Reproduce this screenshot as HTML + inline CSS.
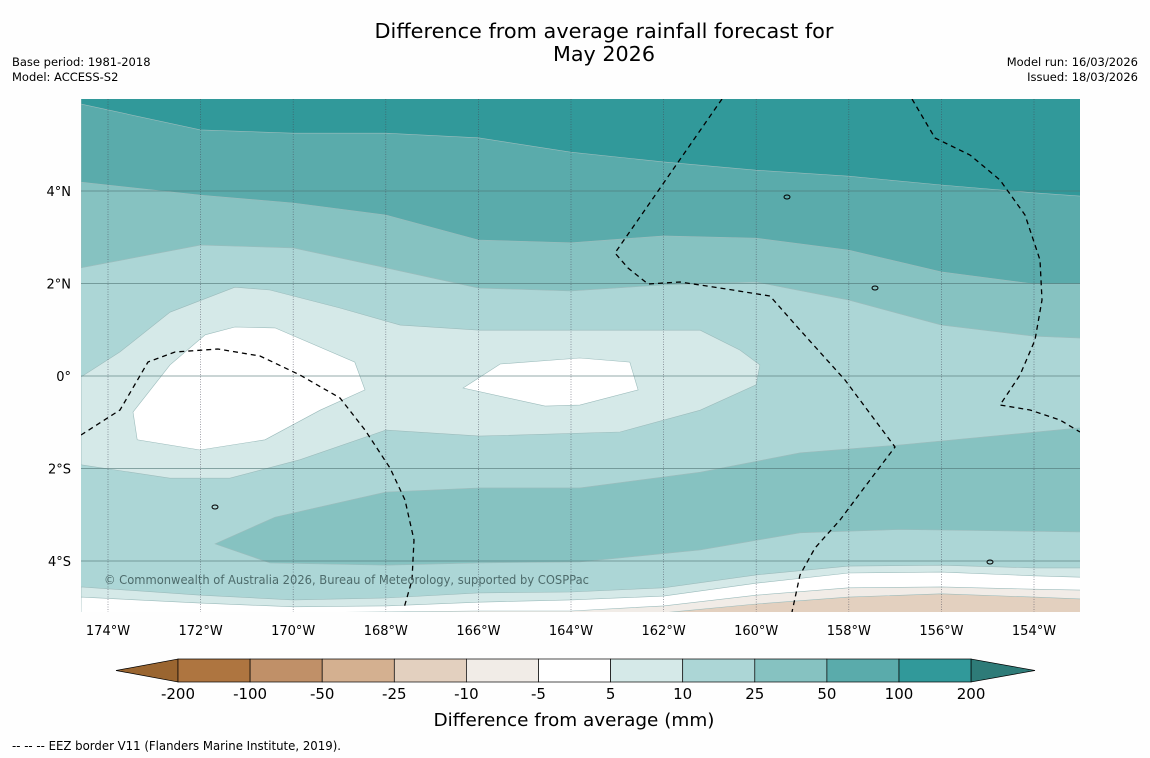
<!DOCTYPE html>
<html><head><meta charset="utf-8"><style>
html,body{margin:0;padding:0;background:#fff;}
svg{display:block;font-family:"DejaVu Sans","Liberation Sans",sans-serif;}
</style></head><body>
<svg id="chart" width="1150" height="758" viewBox="0 0 1150 758">
<rect width="1150" height="758" fill="#fefefe"/>
<text x="604" y="38" font-size="20.5" text-anchor="middle" textLength="459" lengthAdjust="spacingAndGlyphs">Difference from average rainfall forecast for</text>
<text x="604" y="61" font-size="20.5" text-anchor="middle" textLength="102" lengthAdjust="spacingAndGlyphs">May 2026</text>
<text x="12" y="66" font-size="11.5">Base period: 1981-2018</text>
<text x="12" y="81" font-size="11.5">Model: ACCESS-S2</text>
<text x="1138" y="66" font-size="11.5" text-anchor="end">Model run: 16/03/2026</text>
<text x="1138" y="81" font-size="11.5" text-anchor="end">Issued: 18/03/2026</text>
<defs><clipPath id="mapclip"><rect x="81" y="99" width="999" height="513"/></clipPath></defs>
<g id="map" clip-path="url(#mapclip)"></g>
<g id="axes"></g>
<g id="cbar"></g>
<text x="574" y="726" font-size="18" text-anchor="middle" textLength="281" lengthAdjust="spacingAndGlyphs">Difference from average (mm)</text>
<text x="12" y="750" font-size="12" textLength="329" lengthAdjust="spacingAndGlyphs">--  --  -- EEZ border V11 (Flanders Marine Institute, 2019).</text>
</svg>
<script>
const lonGrid = [-174.58,-172,-170,-168,-166,-164,-162,-160,-158,-156,-154,-153.0];
const bound100 = [5.88,5.32,5.25,5.25,5.15,4.84,4.63,4.45,4.32,4.13,3.96,3.89];
const bound50 = [4.19,3.91,3.74,3.48,2.94,2.88,3.03,2.98,2.72,2.25,1.99,1.99];
const bound25 = [2.34,2.83,2.77,2.34,1.90,1.84,1.97,2.03,1.64,1.10,0.86,0.82];
const boundLow10 = [-4.56,-4.74,-4.84,-4.80,-4.69,-4.67,-4.58,-4.30,-4.11,-4.09,-4.15,-4.15];
const boundLow5 = [-4.78,-4.91,-4.99,-4.97,-4.89,-4.84,-4.76,-4.48,-4.26,-4.24,-4.32,-4.35];
const boundLowM5 = [-5.12,-5.12,-5.12,-5.10,-5.08,-5.08,-4.97,-4.74,-4.58,-4.56,-4.61,-4.63];
const boundLowM10 = [-5.12,-5.12,-5.12,-5.12,-5.12,-5.12,-5.12,-4.93,-4.78,-4.71,-4.78,-4.82];
const region5to10 = [[-174.58,-0.02],[-173.74,0.52],[-172.66,1.38],[-171.26,1.92],[-170.50,1.86],[-168.99,1.47],[-167.69,1.10],[-165.97,0.99],[-163.37,0.99],[-161.21,0.99],[-160.35,0.56],[-159.92,0.24],[-160.00,-0.19],[-161.21,-0.74],[-162.94,-1.21],[-165.97,-1.30],[-168.00,-1.17],[-169.85,-1.81],[-171.37,-2.21],[-172.66,-2.21],[-174.58,-1.92]];
const whiteWest = [[-173.46,-0.78],[-172.66,0.24],[-171.90,0.89],[-171.26,1.06],[-170.39,1.04],[-168.67,0.30],[-168.45,-0.30],[-169.42,-0.74],[-170.61,-1.38],[-172.01,-1.60],[-173.37,-1.38]];
const whiteCentral = [[-166.33,-0.26],[-165.53,0.26],[-163.81,0.39],[-162.73,0.30],[-162.55,-0.30],[-163.81,-0.63],[-164.56,-0.65]];
const region25to50South = [[-171.69,-3.63],[-170.39,-3.05],[-168.00,-2.51],[-165.97,-2.42],[-163.81,-2.42],[-161.21,-2.08],[-159.05,-1.66],[-156.89,-1.49],[-153.0,-1.12],[-153.0,-3.37],[-156.89,-3.32],[-159.05,-3.39],[-161.21,-3.76],[-163.81,-4.02],[-165.97,-4.04],[-168.0,-4.09],[-170.50,-4.04]];
const lonTicks = [-174,-172,-170,-168,-166,-164,-162,-160,-158,-156,-154];
const lonLabels = ["174°W","172°W","170°W","168°W","166°W","164°W","162°W","160°W","158°W","156°W","154°W"];
const latTicks = [4,2,0,-2,-4];
const latLabels = ["4°N","2°N","0°","2°S","4°S"];
const cbarLevels = ["-200","-100","-50","-25","-10","-5","5","10","25","50","100","200"];
const cbarColors = ["#ae7540","#c09068","#d4b090","#e3d0bf","#f1ece7","#ffffff","#d5e9e8","#acd6d6","#86c2c1","#5aabab","#31999a"];
const NS='http://www.w3.org/2000/svg';
const X = lon => 108 + (lon + 174) * 46.3;
const Y = lat => 376 - lat * 46.25;
function mk(tag, attrs, parent){const e=document.createElementNS(NS,tag);for(const k in attrs)e.setAttribute(k,attrs[k]);parent.appendChild(e);return e;}
const map=document.getElementById('map');
const edgeStroke='#9cbcbc';
const base=mk('rect',{x:81,y:99,width:999,height:513,fill:'#acd6d6'},map);


function above(lats,fill,name){
  let d='M81,90 '+lonGrid.map((l,i)=>`L${X(l).toFixed(1)},${Y(lats[i]).toFixed(1)}`).join(' ')+' L1090,90 Z';
  const p=mk('path',{d:d,fill:fill,stroke:edgeStroke,'stroke-width':0.6},map);
  
  
}
function below(lats,fill,name){
  let d='M81,620 '+lonGrid.map((l,i)=>`L${X(l).toFixed(1)},${Y(lats[i]).toFixed(1)}`).join(' ')+' L1090,620 Z';
  const p=mk('path',{d:d,fill:fill,stroke:edgeStroke,'stroke-width':0.6},map);
  
  
}
function poly(pts,fill,name){
  const p=mk('polygon',{points:pts.map(q=>X(q[0]).toFixed(1)+','+Y(q[1]).toFixed(1)).join(' '),fill:fill,stroke:edgeStroke,'stroke-width':0.6},map);
  
  
}
above(bound25,'#86c2c1','band-25-50-north');
above(bound50,'#5aabab','band-50-100-north');
above(bound100,'#31999a','band-100-200-north');
poly(region5to10,'#d5e9e8','band-5-10-equatorial');
poly(whiteWest,'#ffffff','band-neutral-west');
poly(whiteCentral,'#ffffff','band-neutral-central');
poly(region25to50South,'#86c2c1','band-25-50-south');
below(boundLow10,'#d5e9e8','band-5-10-south');
below(boundLow5,'#ffffff','band-neutral-south');
below(boundLowM5,'#f1ece7','band-minus5-10-south');
below(boundLowM10,'#e3d0bf','band-minus10-25-south');
lonTicks.forEach(l=>{const g=mk('line',{x1:X(l),x2:X(l),y1:99,y2:612,stroke:'#445',"stroke-width":0.7,"stroke-dasharray":"1,1.5",opacity:0.7},map);

});
latTicks.forEach(l=>{const g=mk('line',{x1:81,x2:1080,y1:Y(l),y2:Y(l),stroke:'#4f7575',"stroke-width":1,opacity:0.6},map);

});
const eez=['M722,99 L615,253 L628,268 L648,284 L680,282 L720,288 L770,296 L800,330 L845,380 L895,447 L870,480 L840,520 L815,548 L800,575 L792,612',
'M912,99 L935,138 L970,155 L1000,180 L1025,215 L1040,260 L1042,300 L1035,340 L1020,375 L1000,405 L1030,410 L1060,420 L1080,432',
'M81,435 L120,410 L148,362 L175,352 L218,349 L260,356 L300,375 L340,398 L365,430 L390,468 L405,500 L414,540 L412,580 L404,608'];
eez.forEach(d=>{const p=mk('path',{d:d,fill:'none',stroke:'#000',"stroke-width":1.3,"stroke-dasharray":"5,4"},map);

});
[[787,197],[875,288],[215,507],[990,562]].forEach(c=>{const e=mk('ellipse',{cx:c[0],cy:c[1],rx:3,ry:2,fill:'none',stroke:'#000','stroke-width':1},map);

});
const cr=mk('text',{x:104,y:584,'font-size':12,fill:'#4d6b6b',textLength:485,lengthAdjust:'spacingAndGlyphs'},map);cr.textContent='© Commonwealth of Australia 2026, Bureau of Meteorology, supported by COSPPac';


const axes=document.getElementById('axes');
lonTicks.forEach((l,i)=>{const t=mk('text',{x:X(l),y:635,'font-size':13,'text-anchor':'middle'},axes);t.textContent=lonLabels[i];

});
latTicks.forEach((l,i)=>{const t=mk('text',{x:71,y:Y(l)+5,'font-size':13,'text-anchor':'end'},axes);t.textContent=latLabels[i];

});
const cb=document.getElementById('cbar');
const cx0=178,cw=72.1,cy=659,ch=23;
const l=mk('polygon',{points:`116,${cy+ch/2} ${cx0},${cy} ${cx0},${cy+ch}`,fill:'#9a6530',stroke:'#000','stroke-width':0.7},cb);


cbarColors.forEach((c,i)=>{const r=mk('rect',{x:cx0+i*cw,y:cy,width:cw,height:ch,fill:c,stroke:'#000','stroke-width':0.7},cb);

});
const xe=cx0+cbarColors.length*cw;
const rt=mk('polygon',{points:`${xe},${cy} ${xe},${cy+ch} 1035,${cy+ch/2}`,fill:'#2e7b78',stroke:'#000','stroke-width':0.7},cb);


cbarLevels.forEach((v,i)=>{const t=mk('text',{x:cx0+i*cw,y:699,'font-size':15,'text-anchor':'middle'},cb);t.textContent=v;

});
</script>
</body></html>
